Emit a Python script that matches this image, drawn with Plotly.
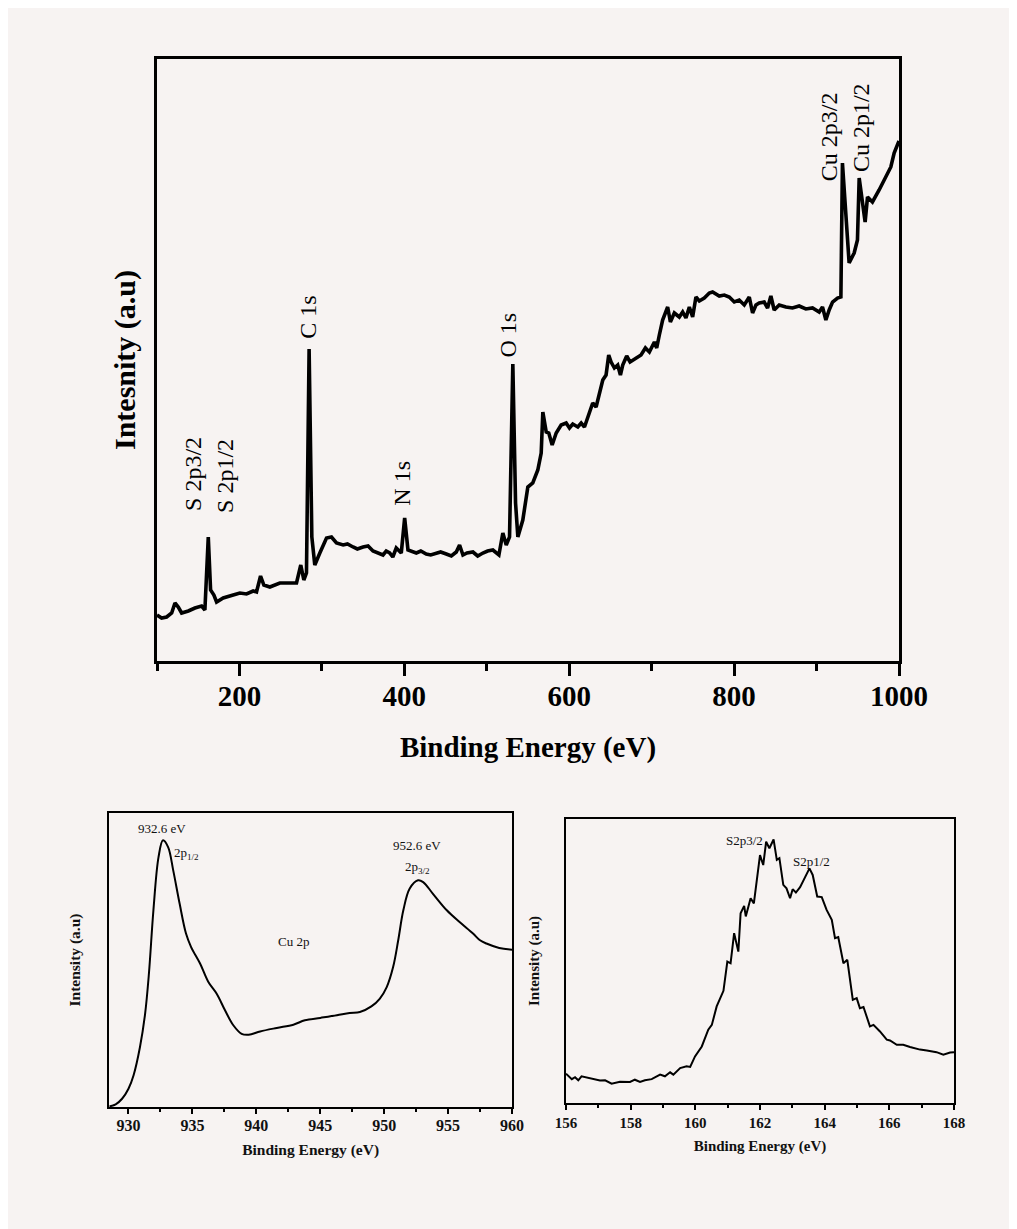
import plotly.graph_objects as go

# ---------------- Survey spectrum (top) ----------------
survey_be = [100, 105.6, 111.7, 117.8, 121.8, 125.8, 129.9, 138, 146, 154.1, 158.1, 162.2, 165, 169, 172.3,
             180.3, 192.4, 200.5, 208.6, 216.7, 220.7, 225.6, 229.6, 236.9, 249, 261.1, 269.2, 274.4, 278.1,
             281.3, 284.5, 287.8, 291.4, 297.5, 305.6, 311.6, 317.7, 325.8, 331, 337.8, 343, 349.9, 356, 362,
             368, 374.1, 378, 382.2, 386, 390.2, 396.3, 400.4, 404.4, 414.5, 420, 426.6, 432, 438.7, 444,
             450.9, 457, 463, 467, 471.1, 476, 483.2, 489, 495.3, 501, 507.4,
             514.7, 519.5, 523.6, 527.6, 531.6, 534.9, 537.7, 543.7, 549.8, 555.8, 561.9, 566.0, 568.0, 572.1,
             575.2, 579.3, 584.2, 590.2, 596.3, 600.3, 604.3, 610.4, 614.5, 618.5, 623.7, 628.5, 632.6, 635.8,
             640.7, 644.7, 647.9, 650.8, 654.8, 658.8, 662.1, 664.9, 669.7, 673.8, 681.1, 687.1, 692.4, 697.2,
             703.3, 706.1, 709.3, 713.3, 719.4, 722.7, 727.5, 733.5, 737.6, 741.6, 745.7, 749.7, 753.7, 757.8,
             763.8, 769.9, 773.9, 782.0, 788.1, 794.1, 800.2, 806.2, 812.3, 818.4, 822.4, 826.5, 830.5, 836.5,
             840.6, 844.6, 848.6, 854.7, 862.8, 870.8, 878.9, 887.0, 895.1, 903.2, 907.2, 911.3, 915.3, 919.4,
             925.4, 929.5, 931.4, 935.5, 939.5, 945.6, 949.6, 951.7,
             955.7, 958.9, 961.8, 967.8, 975.9, 984, 990.1, 994.1, 998.1, 1000]
survey_int = [46, 43, 44, 48, 58, 54, 48, 50, 53, 55, 51, 124, 71, 66, 59,
              63, 66, 68, 67, 70, 69, 85, 76, 74, 78, 78, 78, 96, 81,
              88, 312, 124, 96, 108, 123, 124, 118, 116, 117, 114, 112, 114, 115, 110,
              108, 106, 110, 108, 104, 113, 108, 143, 111, 108, 110, 107, 106, 108, 109,
              107, 105, 109, 116, 106, 108, 109, 105, 108, 110, 111,
              106, 128, 116, 124, 297, 158, 124, 141, 174, 178, 191, 208, 249, 229,
              228, 216, 228, 236, 238, 233, 237, 234, 238, 234, 246, 258, 254, 264,
              281, 286, 306, 299, 293, 296, 286, 296, 305, 299, 303, 306, 313, 309,
              319, 313, 326, 341, 354, 339, 348, 344, 349, 343, 354, 344, 364, 360,
              363, 368, 369, 365, 366, 364, 359, 361, 356, 364, 348, 356, 358, 359,
              353, 365, 351, 356, 354, 353, 355, 352, 353, 349, 354, 341, 351, 359,
              363, 364, 498, 441, 398, 408, 421, 483,
              461, 439, 464, 459, 471, 484, 494, 508, 518, 520]
survey_labels = ["S 2p3/2", "S 2p1/2", "C 1s", "N 1s", "O 1s", "Cu 2p3/2", "Cu 2p1/2"]
survey_label_x = [143.6, 182.4, 282.9, 396.8, 525.2, 915.3, 954.0]
survey_label_y = [187, 185, 344, 178, 326, 524, 533]

# ---------------- Cu 2p (bottom left) ----------------
cu_be = [928.5, 929.0, 929.5, 930.0, 930.4, 930.9, 931.3, 931.6, 931.95, 932.35, 932.7, 933.1, 933.5, 934.0,
         934.5, 934.9, 935.6, 936.25, 936.9, 937.55, 938.2, 938.85, 939.4, 940.3, 941.6, 942.9, 943.8, 945.0,
         946.3, 947.3, 948.1, 949.0, 949.65, 950.2, 950.7, 951.1, 951.5, 952.0, 952.65, 953.05, 953.8, 954.9,
         955.9, 956.95, 957.5, 958.0, 959.0, 960.0]
cu_int = [0.2, 0.9, 2.8, 6.2, 10.8, 20.4, 31.7, 45.4, 66.9, 85.0, 90.7, 88.4, 80.5, 69.2,
          59.0, 54.4, 48.8, 42.5, 38.5, 32.9, 27.8, 24.9, 24.6, 25.7, 26.9, 28.0, 29.5, 30.3,
          31.2, 32.0, 32.3, 34.2, 36.8, 40.8, 47.6, 56.7, 66.9, 74.3, 77.1, 76.5, 72.6, 66.9,
          62.9, 59.0, 56.7, 55.6, 54.1, 53.5]
cu_labels = ["932.6 eV", "2p<sub>1/2</sub>", "952.6 eV", "2p<sub>3/2</sub>", "Cu 2p"]
cu_label_x = [932.6, 934.5, 952.6, 952.6, 942.9]
cu_label_y = [94.8, 86.2, 89.0, 81.6, 56.3]

# ---------------- S 2p (bottom right) ----------------
s_be = [156.00, 156.18, 156.28, 156.38, 156.48, 156.74, 157.05, 157.21, 157.41, 157.67, 157.98, 158.13, 158.29,
        158.44, 158.65, 158.91, 159.06, 159.22, 159.32, 159.53, 159.73, 159.84, 159.99, 160.20, 160.40, 160.51,
        160.66, 160.87, 160.99, 161.09, 161.20, 161.33, 161.40, 161.51, 161.56, 161.71, 161.81, 162.00, 162.10,
        162.19, 162.29, 162.42, 162.52, 162.60, 162.72, 162.82, 162.93, 163.01, 163.11, 163.24, 163.53, 163.63,
        163.77, 163.91, 164.06, 164.22, 164.32, 164.42, 164.58, 164.70, 164.87, 164.99, 165.09, 165.20, 165.40,
        165.51, 165.71, 165.92, 166.02, 166.23, 166.43, 166.64, 166.95, 167.16, 167.46, 167.67, 167.88, 168.00]
s_int = [10.3, 8.4, 9.1, 8.0, 9.4, 8.8, 7.9, 8.0, 6.8, 7.5, 7.4, 8.2, 7.4,
         8.0, 8.4, 10.0, 9.4, 10.8, 10.0, 12.3, 12.9, 12.7, 16.4, 19.9, 25.8, 27.5,
         34.0, 39.5, 49.8, 49.2, 59.8, 53.3, 66.8, 69.4, 65.7, 72.1, 70.3, 87.3, 83.8,
         92.0, 89.7, 92.8, 85.6, 86.2, 76.8, 75.6, 72.1, 75.3, 74.1, 76.0, 82.6, 80.3,
         72.7, 72.5, 68.0, 64.5, 58.0, 58.4, 49.2, 50.4, 36.3, 36.9, 33.4, 33.8, 27.0,
         27.5, 25.2, 22.3, 22.0, 20.5, 20.5, 19.7, 18.8, 18.5, 17.9, 17.0, 17.8, 17.9]
s_labels = ["S2p3/2", "S2p1/2"]
s_label_x = [161.52, 163.6]
s_label_y = [92.3, 85.0]

# ---------------- layout helpers (pixel geometry) ----------------
W, H = 1009, 1221
OX, OY = 8, 8
BG = "#f7f3f2"
SERIF = "Liberation Serif"


def xdom(left, right):
    return [(left - OX) / W, (right - OX) / W]


def ydom(top, bottom):
    return [1 - (bottom - OY) / H, 1 - (top - OY) / H]


fig = go.Figure()
fig.add_trace(go.Scatter(x=survey_be, y=survey_int, mode="lines",
                         line=dict(color="black", width=3.6), xaxis="x", yaxis="y", showlegend=False))
fig.add_trace(go.Scatter(x=cu_be, y=cu_int, mode="lines", line=dict(color="black", width=2, shape="spline"),
                         xaxis="x2", yaxis="y2", showlegend=False))
fig.add_trace(go.Scatter(x=s_be, y=s_int, mode="lines", line=dict(color="black", width=2),
                         xaxis="x3", yaxis="y3", showlegend=False))

big_tick = dict(family=SERIF, size=29, color="black", weight="bold")
small_tick = dict(family=SERIF, size=16, color="#111", weight="bold")

fig.update_layout(
    width=W, height=H, margin=dict(l=0, r=0, t=0, b=0, autoexpand=False),
    paper_bgcolor=BG, plot_bgcolor=BG,
    xaxis=dict(domain=xdom(157, 899), range=[100, 1000], tickvals=[200, 400, 600, 800, 1000],
               ticks="outside", ticklen=12, tickwidth=3, tickcolor="black", ticklabelstandoff=-5,
               minor=dict(ticks="outside", ticklen=7, tickwidth=3, tickcolor="black",
                          tickvals=[100, 300, 500, 700, 900]),
               showline=True, linewidth=3, linecolor="black", mirror=True, showgrid=False, zeroline=False,
               tickfont=big_tick, automargin=False,
               title=dict(text="Binding Energy (eV)", font=big_tick, standoff=26)),
    yaxis=dict(domain=ydom(59, 661), range=[0, 602], showticklabels=False, ticks="",
               showline=True, linewidth=3, linecolor="black", mirror=True, showgrid=False, zeroline=False,
               automargin=False,
               title=dict(text="Intesnity (a.u)", font=dict(family=SERIF, size=30, color="black", weight="bold"),
                          standoff=10)),
    xaxis2=dict(domain=xdom(109.3, 512), range=[928.5, 960], tickvals=[930, 935, 940, 945, 950, 955, 960],
                ticks="outside", ticklen=5, tickwidth=1.5, tickcolor="black", ticklabelstandoff=-2,
                minor=dict(ticks="outside", ticklen=3, tickwidth=1.5, tickcolor="black",
                           tickvals=[932.5, 937.5, 942.5, 947.5, 952.5, 957.5]),
                showline=True, linewidth=2, linecolor="black", mirror=True, showgrid=False, zeroline=False,
                tickfont=small_tick, anchor="y2", automargin=False,
                title=dict(text="Binding Energy (eV)", font=dict(family=SERIF, size=15.5, color="#111", weight="bold"),
                           standoff=11)),
    yaxis2=dict(domain=ydom(813, 1107), range=[0, 100], showticklabels=False, ticks="", anchor="x2",
                showline=True, linewidth=2, linecolor="black", mirror=True, showgrid=False, zeroline=False,
                automargin=False,
                title=dict(text="Intensity (a.u)", font=dict(family=SERIF, size=15.5, color="#111", weight="bold"),
                           standoff=23)),
    xaxis3=dict(domain=xdom(566, 954), range=[156, 168], tickvals=[156, 158, 160, 162, 164, 166, 168],
                ticks="outside", ticklen=5, tickwidth=1.5, tickcolor="black",
                minor=dict(ticks="outside", ticklen=3, tickwidth=1.5, tickcolor="black",
                           tickvals=[157, 159, 161, 163, 165, 167]),
                showline=True, linewidth=2, linecolor="black", mirror=True, showgrid=False, zeroline=False,
                tickfont=dict(family=SERIF, size=15, color="#111", weight="bold"), anchor="y3", automargin=False,
                title=dict(text="Binding Energy (eV)", font=dict(family=SERIF, size=15, color="#111", weight="bold"),
                           standoff=10)),
    yaxis3=dict(domain=ydom(819, 1103), range=[0, 100], showticklabels=False, ticks="", anchor="x3",
                showline=True, linewidth=2, linecolor="black", mirror=True, showgrid=False, zeroline=False,
                automargin=False,
                title=dict(text="Intensity (a.u)", font=dict(family=SERIF, size=15, color="#111", weight="bold"),
                           standoff=21)),
)

for t, x, y in zip(survey_labels, survey_label_x, survey_label_y):
    fig.add_annotation(x=x, y=y, xref="x", yref="y", text=t, showarrow=False, textangle=-90,
                       xanchor="center", yanchor="middle", font=dict(family=SERIF, size=24, color="black"))
for t, x, y in zip(cu_labels, cu_label_x, cu_label_y):
    fig.add_annotation(x=x, y=y, xref="x2", yref="y2", text=t, showarrow=False,
                       xanchor="center", yanchor="middle", font=dict(family=SERIF, size=13, color="#111"))
for t, x, y in zip(s_labels, s_label_x, s_label_y):
    fig.add_annotation(x=x, y=y, xref="x3", yref="y3", text=t, showarrow=False,
                       xanchor="center", yanchor="middle", font=dict(family=SERIF, size=13, color="#111"))

fig.write_html("out.html")
